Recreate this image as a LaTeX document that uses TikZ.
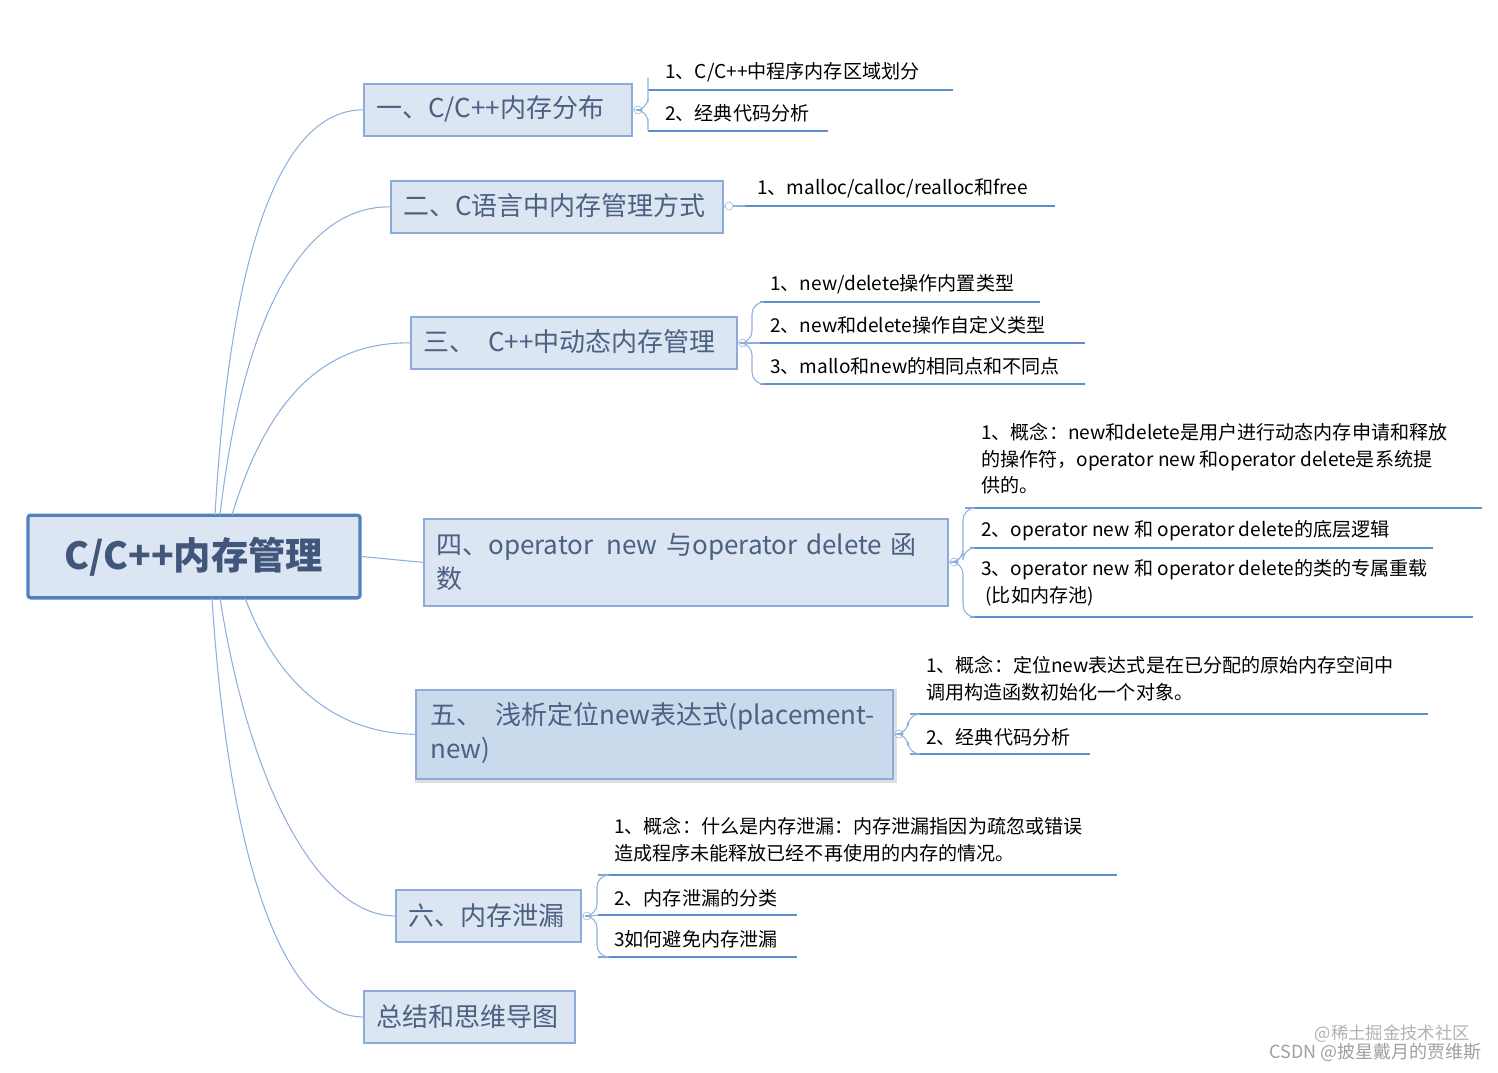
\documentclass[tikz,border=0pt]{standalone}
\usepackage{fontspec}
\setmainfont{Noto Sans CJK SC}
\begin{document}
\begin{tikzpicture}[x=0.75pt,y=-0.75pt]
\definecolor{bfill}{HTML}{DCE6F2}
\definecolor{bfill5}{HTML}{C9DAEC}
\definecolor{bline}{HTML}{8EAADB}
\definecolor{lline}{HTML}{5B8FD0}
\definecolor{cline}{HTML}{8FB0DC}
\definecolor{tx}{HTML}{1F3864}
\tikzset{
 branch/.style={draw=bline,line width=1.3pt,fill=bfill,anchor=north west,inner sep=0pt,font=\fontsize{19}{23}\selectfont,text=tx!80!black,align=left},
 leaf/.style={anchor=west,font=\fontsize{14.3}{20}\selectfont,align=left,inner sep=0pt},
 uline/.style={draw=lline,line width=1.4pt},
 conn/.style={draw=cline,line width=0.8pt},
 knob/.style={circle,draw=cline,fill=white,inner sep=0pt,minimum size=6pt},
 bracket/.style={conn,rounded corners=9pt}
}
\useasboundingbox (0,0) rectangle (1498,1072);
% root
\node[draw=lline!90!black,line width=2.5pt,fill=bfill,rounded corners=2pt,minimum width=249pt,minimum height=62pt,inner sep=0pt,font=\fontsize{28}{30}\selectfont\bfseries,text=tx!85] (root) at (194,556.5) {C/C++内存管理};
% branches
\newcommand{\mybox}[6]{\node[branch,minimum width=#3*0.75pt,minimum height=#4*0.75pt,#6] (#5) at (#1,#2) {};}
\mybox{363}{83}{268}{52}{b1}{}
\mybox{390}{180}{332}{52}{b2}{}
\mybox{410}{316}{326}{52}{b3}{}
\mybox{423}{518}{524}{87}{b4}{}
\node[draw=gray!25,line width=4pt,minimum width=477*0.75pt,minimum height=89*0.75pt,anchor=north west] at (415,689) {};
\node[branch,fill=bfill5,minimum width=477*0.75pt,minimum height=89*0.75pt] (b5) at (415,689) {};
\mybox{395}{889}{185}{52}{b6}{}
\mybox{363}{990}{211}{52}{b7}{}
\tikzset{bt/.style={anchor=west,font=\fontsize{19.5}{25}\selectfont,text=tx!80,align=left,inner sep=0pt}}
\node[bt] at (376,109) {一、C/C++内存分布};
\node[bt] at (403,206) {二、C语言中内存管理方式};
\node[bt] at (423,342) {三、\enspace{}C++中动态内存管理};
\node[bt,text width=505*0.75pt] at (436,562) {四、operator\enspace{}new 与operator delete 函\\数};
\node[bt,text width=455*0.75pt] at (430,733) {五、\enspace{}浅析定位new表达式(placement-\\new)};
\node[bt] at (408,916) {六、内存泄漏};
\node[bt] at (376,1017) {总结和思维导图};
% root connectors
\coordinate (rt) at (215,515);
\coordinate (rb) at (212,598);
\draw[conn] (rt) .. controls (232,220) and (290,110) .. (b1.west);
\draw[conn] (220,515) .. controls (245,300) and (310,206) .. (b2.west);
\draw[conn] (232,515) .. controls (270,390) and (330,342) .. (b3.west);
\draw[conn] (root.east) -- (b4.west);
\draw[conn] (245,598) .. controls (280,690) and (340,733) .. (b5.west);
\draw[conn] (220,598) .. controls (250,790) and (320,916) .. (b6.west);
\draw[conn] (rb) .. controls (228,850) and (280,1017) .. (b7.west);
% leaves
\newcommand{\leafline}[4]{\coordinate (#4a) at (#1,#3); \coordinate (#4b) at (#2,#3); \draw[uline] (#4a) -- (#4b);}
% group 1
\node[knob] (k1) at (638,110) {};
\draw[conn] (b1.east) -- (k1);
\leafline{648}{953}{90}{l11}\leafline{648}{828}{131}{l12}
\node[leaf] at (665,72) {1、C/C++中程序内存区域划分};
\node[leaf] at (665,113) {2、经典代码分析};
\draw[bracket] (k1.east) -- (648,110) -- (648,90) -- (l11a);
\draw[bracket] (k1.east) -- (648,110) -- (648,131) -- (l12a);
% group 2
\node[knob] (k2) at (729,206) {};
\draw[conn] (b2.east) -- (k2);
\leafline{745}{1055}{206}{l21}
\draw[conn] (k2) -- (l21a);
\node[leaf] at (757,188) {1、malloc/calloc/realloc和free};
% group 3
\node[knob] (k3) at (743,343) {};
\draw[conn] (b3.east) -- (k3);
\leafline{760}{1040}{302}{l31}\leafline{760}{1085}{343}{l32}\leafline{760}{1085}{384}{l33}
\node[leaf] at (770,284) {1、new/delete操作内置类型};
\node[leaf] at (770,325) {2、new和delete操作自定义类型};
\node[leaf] at (770,366) {3、mallo和new的相同点和不同点};
\draw[bracket] (k3.east) -- (752,343) -- (752,302) -- (l31a);
\draw[conn] (k3.east) -- (l32a);
\draw[bracket] (k3.east) -- (752,343) -- (752,384) -- (l33a);
% group 4
\node[knob] (k4) at (954,562) {};
\draw[conn] (b4.east) -- (k4);
\leafline{965}{1482}{508}{l41}\leafline{970}{1433}{548}{l42}\leafline{970}{1473}{617}{l43}
\node[leaf,anchor=north west] at (981,423) {1、概念：new和delete是用户进行动态内存申请和释放\\的操作符，operator new 和operator delete是系统提\\供的。};
\node[leaf] at (981,531) {2、operator new 和 operator delete的底层逻辑};
\node[leaf,anchor=north west] at (981,559) {3、operator new 和 operator delete的类的专属重载\\\ (比如内存池)};
\draw[bracket] (k4.east) -- (963,562) -- (963,508) -- (l41a);
\draw[bracket] (k4.east) -- (963,562) -- (963,548) -- (l42a);
\draw[bracket] (k4.east) -- (963,562) -- (963,617) -- (l43a);
% group 5
\node[knob] (k5) at (899,734) {};
\draw[conn] (b5.east) -- (k5);
\leafline{910}{1428}{714}{l51}\leafline{910}{1090}{754}{l52}
\node[leaf,anchor=north west] at (926,656) {1、概念：定位new表达式是在已分配的原始内存空间中\\调用构造函数初始化一个对象。};
\node[leaf] at (926,737) {2、经典代码分析};
\draw[bracket] (k5.east) -- (908,734) -- (908,714) -- (l51a);
\draw[bracket] (k5.east) -- (908,734) -- (908,754) -- (l52a);
% group 6
\node[knob] (k6) at (587,916) {};
\draw[conn] (b6.east) -- (k6);
\leafline{598}{1117}{875}{l61}\leafline{598}{797}{915}{l62}\leafline{598}{797}{957}{l63}
\node[leaf,anchor=north west] at (614,817) {1、概念：什么是内存泄漏：内存泄漏指因为疏忽或错误\\造成程序未能释放已经不再使用的内存的情况。};
\node[leaf] at (614,898) {2、内存泄漏的分类};
\node[leaf] at (614,939) {3如何避免内存泄漏};
\draw[bracket] (k6.east) -- (597,916) -- (597,875) -- (l61a);
\draw[conn] (k6.east) -- (l62a);
\draw[bracket] (k6.east) -- (597,916) -- (597,957) -- (l63a);
% watermark
\node[anchor=east,text=gray!60,font=\fontsize{13}{15}\selectfont,inner sep=0pt] (w1) at (1470,1034) {@稀土掘金技术社区};
\node[anchor=east,text=gray!75,font=\fontsize{13.5}{15}\selectfont,inner sep=0pt] (w2) at (1482,1052) {CSDN @披星戴月的贾维斯};
\end{tikzpicture}
\end{document}
